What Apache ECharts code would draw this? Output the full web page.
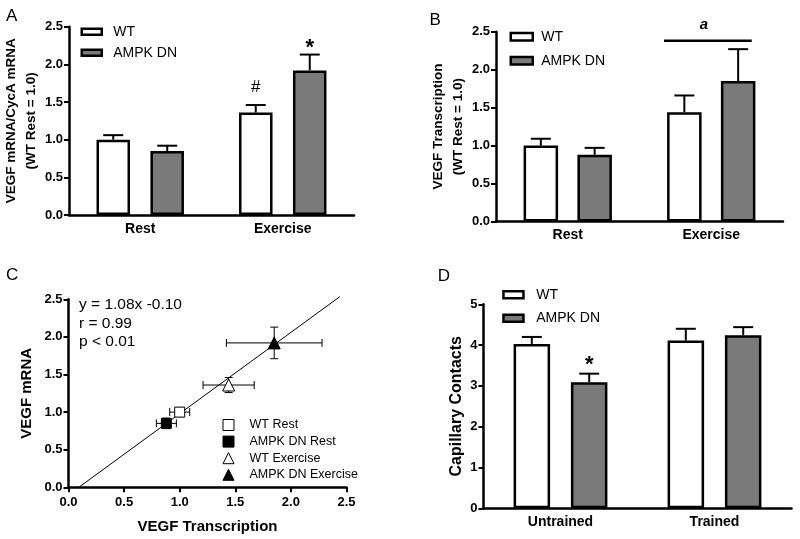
<!DOCTYPE html>
<html>
<head>
<meta charset="utf-8">
<script src="https://cdn.jsdelivr.net/npm/echarts@6/dist/echarts.min.js"></script>
<style>
  html, body { margin: 0; background: #fff; }
  #main { width: 800px; height: 539px; }
</style>
</head>
<body>
<div id="main"></div>
<script>
// A: VEGF mRNA
const restExCats = ['Rest', 'Exercise'];
const mrnaWT = [1.0, 1.36];
const mrnaWTErr = [0.06, 0.10];
const mrnaDN = [0.85, 1.92];
const mrnaDNErr = [0.07, 0.21];
const mrnaMarksWT = ['', '#'];
const mrnaMarksDN = ['', '*'];

// B: VEGF transcription
const transWT = [1.0, 1.44];
const transWTErr = [0.09, 0.22];
const transDN = [0.88, 1.85];
const transDNErr = [0.09, 0.42];

// C: correlation
const corrNames = ['WT Rest', 'AMPK DN Rest', 'WT Exercise', 'AMPK DN Exercise'];
const corrX = [1.0, 0.88, 1.44, 1.85];
const corrXErr = [0.09, 0.09, 0.23, 0.43];
const corrY = [1.0, 0.85, 1.36, 1.92];
const corrYErr = [0.06, 0.07, 0.10, 0.21];
const fitLine = [[0.093, 0], [2.44, 2.535]];
const fitText = 'y = 1.08x -0.10\nr = 0.99\np < 0.01';

// D: capillary contacts
const trainCats = ['Untrained', 'Trained'];
const capWT = [4.03, 4.11];
const capWTErr = [0.17, 0.29];
const capDN = [3.09, 4.24];
const capDNErr = [0.21, 0.20];
const capMarksDN = ['*', ''];

const FONT = '"Liberation Sans", Arial, sans-serif';
const GREY = '#7a7a7a';
const corrSymbols = ['rect', 'rect', 'triangle', 'triangle'];
const corrFill = ['#fff', '#000', '#fff', '#000'];

const chart = echarts.init(document.getElementById('main'));

function yAxisCfg(idx, max, interval, name, nameGap, nameSize, digits) {
  return {
    type: 'value', gridIndex: idx, min: 0, max: max, interval: interval,
    name: name, nameLocation: 'middle', nameRotate: 90, nameGap: nameGap,
    nameTextStyle: { fontFamily: FONT, fontWeight: 'bold', fontSize: nameSize, color: '#000', lineHeight: 20 },
    axisLine: { show: true, lineStyle: { color: '#000', width: 2.5 } },
    axisTick: { show: true, length: 5, lineStyle: { color: '#000', width: 2 } },
    axisLabel: { margin: 6, color: '#000', fontFamily: FONT, fontWeight: 'bold', fontSize: 13,
      formatter: v => v.toFixed(digits) },
    splitLine: { show: false }
  };
}

function catAxis(idx, cats) {
  return {
    type: 'category', gridIndex: idx, data: cats,
    axisLine: { lineStyle: { color: '#000', width: 2.5 } },
    axisTick: { show: false },
    axisLabel: { margin: 7, interval: 0, color: '#000', fontFamily: FONT, fontWeight: 'bold', fontSize: 14 }
  };
}

function bars(idx, name, vals, fill, w, gap) {
  return {
    type: 'bar', name: name, xAxisIndex: idx, yAxisIndex: idx, data: vals,
    barWidth: w, barGap: gap, z: 3,
    itemStyle: { color: fill, borderColor: '#000', borderWidth: 2.5 }
  };
}

// upward error bars, with an optional mark above the cap
function errBars(idx, vals, errs, offset, marks, markFont, markDy) {
  return {
    type: 'custom', xAxisIndex: idx, yAxisIndex: idx, z: 4, silent: true,
    data: vals.map((v, i) => [i, v, errs[i]]),
    renderItem: function (params, api) {
      const i = params.dataIndex;
      const base = api.coord([api.value(0), api.value(1)]);
      const top = api.coord([api.value(0), api.value(1) + api.value(2)]);
      const x = base[0] + offset;
      const st = { stroke: '#000', lineWidth: 2 };
      const kids = [
        { type: 'line', shape: { x1: x, y1: base[1], x2: x, y2: top[1] }, style: st },
        { type: 'line', shape: { x1: x - 10, y1: top[1], x2: x + 10, y2: top[1] }, style: st }
      ];
      if (marks && marks[i]) {
        kids.push({ type: 'text', style: { text: marks[i], x: x, y: top[1] - markDy,
          align: 'center', verticalAlign: 'middle', font: markFont, fill: '#000' } });
      }
      return { type: 'group', children: kids };
    }
  };
}

function barLegend(left, top, w, h, gap, pad) {
  return {
    data: ['WT', 'AMPK DN'], orient: 'vertical', left: left, top: top, padding: 0,
    icon: 'rect', itemWidth: w, itemHeight: h, itemGap: gap, selectedMode: false,
    itemStyle: { borderColor: '#000', borderWidth: 2.5 },
    textStyle: { fontFamily: FONT, fontSize: 14, color: '#000', lineHeight: 16, padding: [0, 0, 0, pad] }
  };
}

const corrSeries = corrNames.map((nm, i) => ({
  type: 'scatter', name: nm, xAxisIndex: 2, yAxisIndex: 2,
  data: [[corrX[i], corrY[i]]],
  symbol: corrSymbols[i], symbolSize: i < 2 ? 10 : 12, z: 5,
  itemStyle: { color: corrFill[i], borderColor: '#000', borderWidth: 1, opacity: 1 }
}));

const corrErr = {
  type: 'custom', xAxisIndex: 2, yAxisIndex: 2, z: 4, silent: true,
  data: corrX.map((x, i) => [x, corrY[i], corrXErr[i], corrYErr[i]]),
  renderItem: function (params, api) {
    const x = api.value(0), y = api.value(1), ex = api.value(2), ey = api.value(3);
    const l = api.coord([x - ex, y]), r = api.coord([x + ex, y]);
    const t = api.coord([x, y + ey]), b = api.coord([x, y - ey]);
    const c = 4;
    const st = { stroke: '#000', lineWidth: 1 };
    const ln = (x1, y1, x2, y2) => ({ type: 'line', shape: { x1, y1, x2, y2 }, style: st });
    return { type: 'group', children: [
      ln(l[0], l[1], r[0], r[1]),
      ln(l[0], l[1] - c, l[0], l[1] + c),
      ln(r[0], r[1] - c, r[0], r[1] + c),
      ln(t[0], t[1], b[0], b[1]),
      ln(t[0] - c, t[1], t[0] + c, t[1]),
      ln(b[0] - c, b[1], b[0] + c, b[1])
    ] };
  }
};

const option = {
  animation: false,
  backgroundColor: '#fff',
  grid: [
    { left: 66, top: 26.7, width: 288, height: 188.3 },
    { left: 496, top: 31.7, width: 287, height: 189.8 },
    { left: 68.5, top: 299.3, width: 278, height: 188 },
    { left: 483.5, top: 304.3, width: 308, height: 204 }
  ],
  xAxis: [
    catAxis(0, restExCats),
    catAxis(1, restExCats),
    {
      type: 'value', gridIndex: 2, min: 0, max: 2.5, interval: 0.5,
      name: 'VEGF Transcription', nameLocation: 'middle', nameGap: 32,
      nameTextStyle: { fontFamily: FONT, fontWeight: 'bold', fontSize: 15, color: '#000' },
      axisLine: { lineStyle: { color: '#000', width: 2.5 } },
      axisTick: { show: true, length: 5, lineStyle: { color: '#000', width: 2 } },
      axisLabel: { margin: 9, color: '#000', fontFamily: FONT, fontWeight: 'bold', fontSize: 13,
        formatter: v => v.toFixed(1) },
      splitLine: { show: false }
    },
    catAxis(3, trainCats)
  ],
  yAxis: [
    yAxisCfg(0, 2.5, 0.5, 'VEGF mRNA/CycA mRNA\n(WT Rest = 1.0)', 20, 13.5, 1),
    yAxisCfg(1, 2.5, 0.5, 'VEGF Transcription\n(WT Rest = 1.0)', 20, 13.5, 1),
    yAxisCfg(2, 2.5, 0.5, 'VEGF mRNA', 32, 15, 1),
    yAxisCfg(3, 5, 1, 'Capillary Contacts', 16, 16, 0)
  ],
  legend: [
    barLegend(80.5, 23.7, 20, 6, 5, 6.5),
    barLegend(509.5, 28.7, 22, 7.5, 8, 3.5),
    {
      data: corrNames, orient: 'vertical', left: 222.5, top: 418, padding: 0,
      itemWidth: 11, itemHeight: 11, itemGap: 2.6, selectedMode: false,
      itemStyle: { borderColor: '#000', borderWidth: 1 },
      textStyle: { fontFamily: FONT, fontSize: 12.5, color: '#000', lineHeight: 14, padding: [0, 0, 0, 10.5] }
    },
    barLegend(502.2, 286.7, 20, 7, 7.6, 7.8)
  ],
  graphic: [
    { type: 'text', x: 6, y: 8, style: { text: 'A', fontFamily: FONT, fontSize: 17, fill: '#000', verticalAlign: 'top' } },
    { type: 'text', x: 429.5, y: 12, style: { text: 'B', fontFamily: FONT, fontSize: 17, fill: '#000', verticalAlign: 'top' } },
    { type: 'text', x: 6, y: 267, style: { text: 'C', fontFamily: FONT, fontSize: 17, fill: '#000', verticalAlign: 'top' } },
    { type: 'text', x: 437.7, y: 268, style: { text: 'D', fontFamily: FONT, fontSize: 17, fill: '#000', verticalAlign: 'top' } },
    { type: 'text', x: 79, y: 296, style: { text: fitText, fontFamily: FONT, fontSize: 15.5, lineHeight: 18.3, fill: '#000', verticalAlign: 'top' } },
    { type: 'line', shape: { x1: 664, y1: 40.7, x2: 751.7, y2: 40.7 }, style: { stroke: '#000', lineWidth: 2.5 } },
    { type: 'text', x: 704, y: 25, style: { text: 'a', fontFamily: FONT, fontSize: 15, fontWeight: 'bold', fontStyle: 'italic',
      fill: '#000', align: 'center', verticalAlign: 'middle' } }
  ],
  series: [
    bars(0, 'WT', mrnaWT, '#fff', 33.5, '61%'),
    bars(0, 'AMPK DN', mrnaDN, GREY, 33.5, '61%'),
    errBars(0, mrnaWT, mrnaWTErr, -27, mrnaMarksWT, '17px ' + FONT, 17.6),
    errBars(0, mrnaDN, mrnaDNErr, 27, mrnaMarksDN, 'bold 22px ' + FONT, 7),
    bars(1, 'WT', transWT, '#fff', 34.5, '56%'),
    bars(1, 'AMPK DN', transDN, GREY, 34.5, '56%'),
    errBars(1, transWT, transWTErr, -26.9, null),
    errBars(1, transDN, transDNErr, 26.9, null),
    { type: 'line', xAxisIndex: 2, yAxisIndex: 2, data: fitLine, symbol: 'none', clip: false, z: 3,
      silent: true, lineStyle: { color: '#000', width: 1 } },
    corrErr,
    ...corrSeries,
    bars(3, 'WT', capWT, '#fff', 36.5, '57%'),
    bars(3, 'AMPK DN', capDN, GREY, 36.5, '57%'),
    errBars(3, capWT, capWTErr, -28.7, null),
    errBars(3, capDN, capDNErr, 28.7, capMarksDN, 'bold 22px ' + FONT, 9)
  ]
};

chart.setOption(option);
</script>
</body>
</html>
